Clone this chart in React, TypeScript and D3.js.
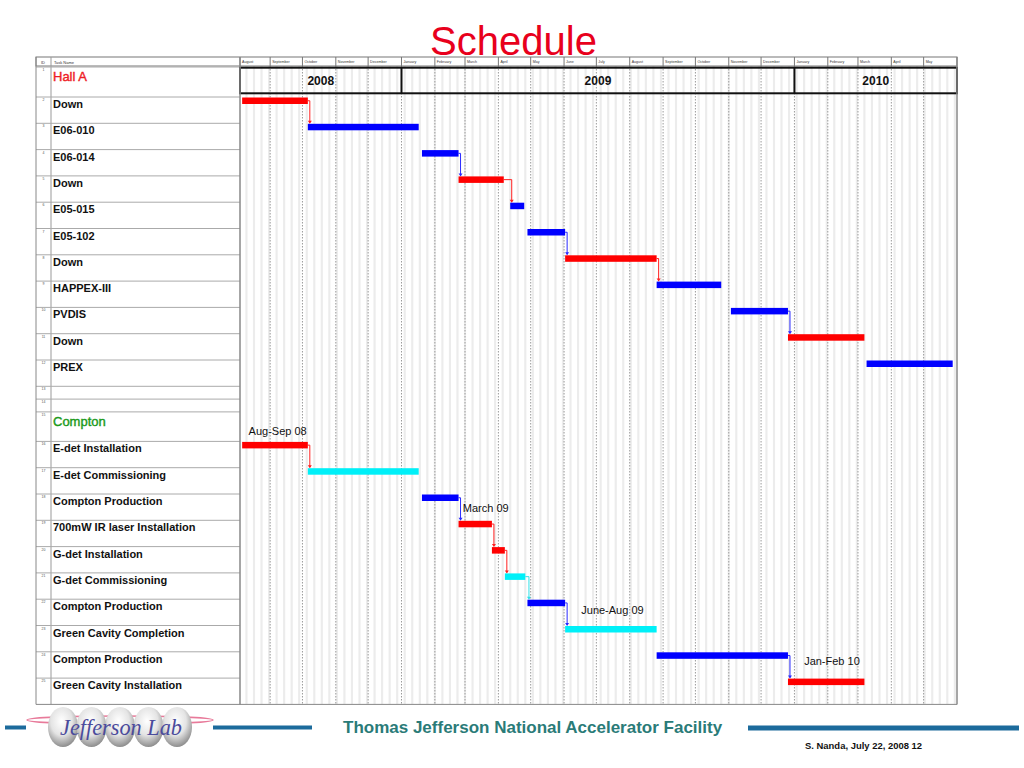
import React from "react";
import * as d3 from "d3";

// ---------- data ----------
const taskNames = [
  "Hall A", "Down", "E06-010", "E06-014", "Down", "E05-015", "E05-102", "Down",
  "HAPPEX-III", "PVDIS", "Down", "PREX", "", "", "Compton",
  "E-det Installation", "E-det Commissioning", "Compton Production",
  "700mW IR laser Installation", "G-det Installation", "G-det Commissioning",
  "Compton Production", "Green Cavity Completion", "Compton Production",
  "Green Cavity Installation",
];
// row kind: summary / task / blank
const taskKinds = [
  "summary", "task", "task", "task", "task", "task", "task", "task",
  "task", "task", "task", "task", "blank", "blank", "summary",
  "task", "task", "task", "task", "task", "task", "task", "task", "task", "task",
];
const taskStarts = [
  "", "2008-08-06", "2008-10-06", "2009-01-20", "2009-02-23", "2009-04-12", "2009-04-28", "2009-06-02",
  "2009-08-26", "2009-11-03", "2009-12-26", "2010-03-09", "", "", "",
  "2008-08-06", "2008-10-06", "2009-01-20", "2009-02-23", "2009-03-26", "2009-04-07",
  "2009-04-28", "2009-06-02", "2009-08-26", "2009-12-26",
];
const taskEnds = [
  "", "2008-10-06", "2009-01-17", "2009-02-23", "2009-04-06", "2009-04-25", "2009-06-02", "2009-08-26",
  "2009-10-25", "2009-12-26", "2010-03-07", "2010-05-28", "", "", "",
  "2008-10-06", "2009-01-17", "2009-02-23", "2009-03-26", "2009-04-07", "2009-04-26",
  "2009-06-02", "2009-08-26", "2009-12-26", "2010-03-07",
];
// bar type: down (red), run (blue), commission (cyan)
const taskTypes = [
  "", "down", "run", "run", "down", "run", "run", "down",
  "run", "run", "down", "run", "", "", "",
  "down", "commission", "run", "down", "down", "commission",
  "run", "commission", "run", "down",
];
// dependencies (task IDs): predecessor -> successor
const links = [
  [2, 3], [4, 5], [5, 6], [7, 8], [8, 9], [10, 11],
  [16, 17], [18, 19], [19, 20], [20, 21], [21, 22], [22, 23], [24, 25],
];
const noteTexts = ["Aug-Sep 08", "March 09", "June-Aug 09", "Jan-Feb 10"];
const noteDates = ["2008-08-12", "2009-02-27", "2009-06-17", "2010-01-10"];
const noteRows = [15, 18, 22, 24];
const monthNames = [
  "January", "February", "March", "April", "May", "June", "July",
  "August", "September", "October", "November", "December",
];
const timelineStart = "2008-08-04";
const timelineEnd = "2010-06-01";

// ---------- layout ----------
const W = 1024, H = 768;
const tableLeft = 36, idRight = 51, nameRight = 240, chartRight = 957;
const headerTop = 57, headerBottom = 66;
const rowH = { summary: 30, task: 26.3, blank: 12.8 };
const noteDy = [23, 18, 15, 13];
const colors = { down: "#ff0000", run: "#0000ff", commission: "#00f0f8" };
const linkColors = { down: "#ff2020", run: "#2a2aff", commission: "#30e0e8" };
const parse = (s: string) => d3.utcParse("%Y-%m-%d")(s) as Date;

export default function App() {
  const x = d3.scaleUtc().domain([parse(timelineStart), parse(timelineEnd)]).range([nameRight, chartRight]);

  // row tops
  const tops: number[] = [];
  let y = headerBottom + 1;
  taskKinds.forEach((k, i) => {
    tops.push(y);
    y += i === 14 ? 29.5 : (rowH as any)[k];
  });
  const tableBottom = y;

  const d0 = parse(timelineStart), d1 = parse(timelineEnd);
  const weekends = d3.utcSaturday.range(d3.utcDay.offset(d0, -7), d1);
  const months = d3.utcMonth.range(d0, d1);
  const monthCells = [d0, ...months.filter((m) => +m > +d0)];
  const years = d3.utcYear.range(d0, d1);
  const yearCells = [d0, ...years];

  const barY = (i: number) => tops[i] + 0.5;
  const barH = 6.5;

  return (
    <svg width={W} height={H} style={{ display: "block", position: "absolute", left: 0, top: 0, background: "#fff" }}
      fontFamily="'Liberation Sans', Arial, sans-serif">
      <defs>
        <radialGradient id="pearl" cx="45%" cy="35%" r="65%">
          <stop offset="0%" stopColor="#ffffff" />
          <stop offset="55%" stopColor="#e4e4e4" />
          <stop offset="100%" stopColor="#8e8e8e" />
        </radialGradient>
        <clipPath id="chartClip">
          <rect x={nameRight} y={headerBottom} width={chartRight - nameRight} height={tableBottom - headerBottom} />
        </clipPath>
      </defs>

      {/* title */}
      <text x={513.5} y={55} textAnchor="middle" fontSize={40} fill="#e8001c">Schedule</text>

      {/* chart background stripes */}
      <g clipPath="url(#chartClip)">
        {weekends.map((d, i) => (
          <rect key={i} x={x(d)} y={headerBottom} width={x(d3.utcDay.offset(d, 2)) - x(d)} height={tableBottom - headerBottom} fill="#ececec" />
        ))}
        {months.map((d, i) => (
          <line key={i} x1={x(d)} x2={x(d)} y1={headerBottom} y2={tableBottom} stroke="#9a9a9a" strokeWidth={1} strokeDasharray="1.5,1.5" />
        ))}
      </g>

      {/* header row */}
      <rect x={tableLeft} y={headerTop} width={chartRight - tableLeft} height={headerBottom - headerTop} fill="#fff" stroke="#777" strokeWidth={1} />
      <line x1={idRight} x2={idRight} y1={headerTop} y2={tableBottom} stroke="#999" />
      <text x={41} y={63.5} fontSize={4} fill="#333">ID</text>
      <text x={54} y={63.5} fontSize={4} fill="#333">Task Name</text>
      {monthCells.map((d, i) => (
        <g key={i}>
          <line x1={x(d)} x2={x(d)} y1={headerTop} y2={headerBottom} stroke="#777" />
          <text x={x(d) + 2} y={63.3} fontSize={3.6} fill="#333">{monthNames[d.getUTCMonth()]}</text>
        </g>
      ))}

      {/* name column rows */}
      {tops.map((t, i) => (
        <g key={i}>
          <line x1={tableLeft} x2={nameRight} y1={t} y2={t} stroke="#aaa" strokeWidth={1} />
          <text x={43.5} y={t + 4} fontSize={3.5} textAnchor="middle" fill="#555">{i + 1}</text>
          {taskKinds[i] === "summary" ? (
            <text x={53} y={t + 14} fontSize={13} fill={i === 0 ? "#ee1c25" : "#1a9a1a"} stroke={i === 0 ? "#ee1c25" : "#1a9a1a"} strokeWidth={0.4}>{taskNames[i]}</text>
          ) : (
            <text x={53} y={t + 11} fontSize={11} fontWeight="bold" fill="#111">{taskNames[i]}</text>
          )}
        </g>
      ))}

      {/* year box */}
      <rect x={nameRight} y={67.7} width={chartRight - nameRight} height={93.3 - 67.7} fill="none" stroke="#111" strokeWidth={2} />
      {years.map((d, i) => (
        <line key={i} x1={x(d)} x2={x(d)} y1={67.7} y2={93.3} stroke="#111" strokeWidth={2} />
      ))}
      {yearCells.map((d, i) => {
        const e = i + 1 < yearCells.length ? yearCells[i + 1] : d1;
        return (
          <text key={i} x={(x(d) + x(e)) / 2} y={84.5} textAnchor="middle" fontSize={12} fontWeight="bold" fill="#111">
            {d.getUTCFullYear()}
          </text>
        );
      })}

      {/* frame */}
      <line x1={tableLeft} x2={tableLeft} y1={headerTop} y2={tableBottom} stroke="#888" />
      <line x1={nameRight} x2={nameRight} y1={headerTop} y2={tableBottom} stroke="#888" strokeWidth={1.5} />
      <line x1={chartRight} x2={chartRight} y1={headerTop} y2={tableBottom} stroke="#888" strokeWidth={1.5} />
      <line x1={tableLeft} x2={chartRight} y1={tableBottom} y2={tableBottom} stroke="#888" />

      {/* links */}
      {links.map(([a, b], i) => {
        const ia = a - 1, ib = b - 1;
        const xe = x(parse(taskEnds[ia]));
        const xs = Math.max(xe + 2, x(parse(taskStarts[ib])) + 1.5);
        const ym = barY(ia) + barH / 2;
        const yt = barY(ib);
        const c = (linkColors as any)[taskTypes[ia]];
        return (
          <g key={i}>
            <path d={`M${xe},${ym}H${xs}V${yt - 1}`} fill="none" stroke={c} strokeWidth={1} />
            <path d={`M${xs - 2},${yt - 3}L${xs + 2},${yt - 3}L${xs},${yt}Z`} fill={c} />
          </g>
        );
      })}

      {/* bars */}
      {taskNames.map((n, i) =>
        taskStarts[i] ? (
          <rect key={i} x={x(parse(taskStarts[i]))} y={barY(i)} width={x(parse(taskEnds[i])) - x(parse(taskStarts[i]))}
            height={barH} fill={(colors as any)[taskTypes[i]]} />
        ) : null
      )}

      {/* annotations */}
      {noteTexts.map((t, i) => (
        <text key={i} x={x(parse(noteDates[i]))} y={tops[noteRows[i] - 1] + noteDy[i]} fontSize={11} fill="#111">{t}</text>
      ))}

      {/* footer */}
      <line x1={5} x2={26} y1={727.5} y2={727.5} stroke="#1c6b9c" strokeWidth={4} />
      <line x1={213} x2={312} y1={727.5} y2={727.5} stroke="#1c6b9c" strokeWidth={4} />
      <line x1={748} x2={1019} y1={728} y2={728} stroke="#1c6b9c" strokeWidth={5} />
      <g>
        <ellipse cx={120} cy={720} rx={93} ry={4} fill="none" stroke="#e87a9a" strokeWidth={1.5} />
        {[0, 1, 2, 3, 4].map((k) => (
          <ellipse key={k} cx={63 + k * 28.5} cy={727} rx={15} ry={20} fill="url(#pearl)" />
        ))}
        <text x={60} y={735} fontSize={23} fontStyle="italic" fontFamily="'Liberation Serif', 'DejaVu Serif', serif" fill="#4b4b9c" textLength={122} lengthAdjust="spacingAndGlyphs">Jefferson Lab</text>
      </g>
      <text x={343} y={733} fontSize={17} fontWeight="bold" fill="#2a7b78">Thomas Jefferson National Accelerator Facility</text>
      <text x={805} y={749} fontSize={9.5} fontWeight="bold" fill="#111" textLength={117} lengthAdjust="spacingAndGlyphs">S. Nanda, July 22, 2008 12</text>
    </svg>
  );
}
